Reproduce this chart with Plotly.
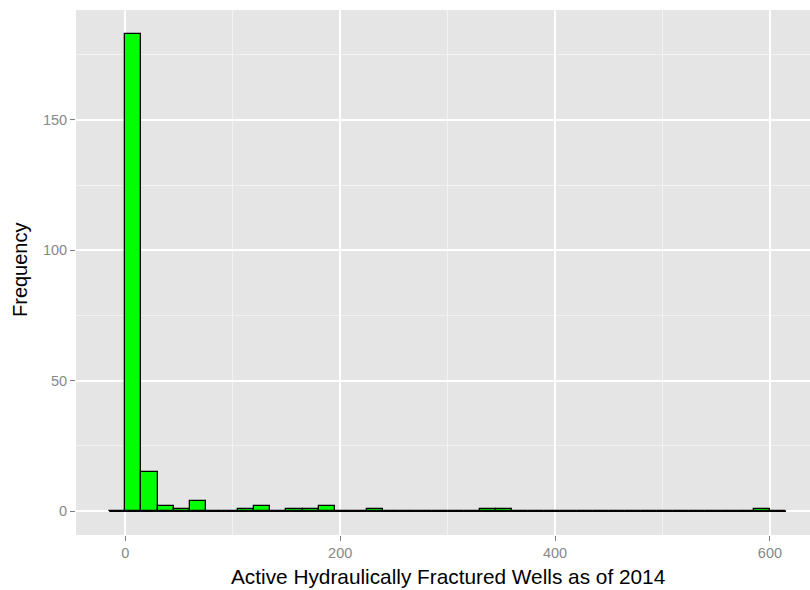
import plotly.graph_objects as go

# Histogram data (binwidth 15, first bin starts at -15)
bin_start = -15
bin_width = 15
counts = [0, 183, 15, 2, 1, 4, 0, 0, 1, 2, 0, 1, 1, 2, 0, 0, 1,
          0, 0, 0, 0, 0, 0, 1, 1,
          0, 0, 0, 0, 0, 0, 0, 0, 0, 0, 0, 0, 0, 0, 0, 1, 0]
x_ticks = [0, 200, 400, 600]
y_ticks = [0, 50, 100, 150]
x_title = "Active Hydraulically Fractured Wells as of 2014"
y_title = "Frequency"

centers = [bin_start + bin_width * (i + 0.5) for i in range(len(counts))]
edges_lo = bin_start
edges_hi = bin_start + bin_width * len(counts)

FONT = "Liberation Sans, Arial, sans-serif"
W, H = 810, 590
ML, MR, MT, MB = 76, 0, 10, 55
PW, PH = W - ML - MR, H - MT - MB

fig = go.Figure()
fig.add_trace(go.Bar(
    x=centers, y=counts, width=bin_width,
    marker=dict(color="#00FF00", line=dict(color="black", width=1.3)),
    hoverinfo="x+y",
))
fig.add_trace(go.Scatter(
    x=[edges_lo, edges_hi], y=[0, 0], mode="lines",
    line=dict(color="black", width=1.5), hoverinfo="skip",
))

fig.update_layout(
    width=W, height=H,
    margin=dict(l=ML, r=MR, t=MT, b=MB, autoexpand=False),
    paper_bgcolor="white", plot_bgcolor="#E5E5E5",
    showlegend=False, bargap=0,
    font=dict(family=FONT),
)
fig.update_xaxes(
    range=[-45.9, 637.3], tickvals=x_ticks, ticktext=[str(v) for v in x_ticks],
    showgrid=True, gridcolor="white", gridwidth=1.6, zeroline=False,
    minor=dict(dtick=100, tick0=0, showgrid=True, gridcolor="#F2F2F2", gridwidth=0.8),
    ticks="outside", ticklen=5, tickcolor="#7F7F7F", tickwidth=1,
    tickfont=dict(size=14.5, color="#888888", family=FONT),
    automargin=False, showline=False,
)
fig.update_yaxes(
    range=[-9.15, 192.15], tickvals=y_ticks, ticktext=[str(v) for v in y_ticks],
    showgrid=True, gridcolor="white", gridwidth=1.6, zeroline=False,
    minor=dict(dtick=25, tick0=0, showgrid=True, gridcolor="#F2F2F2", gridwidth=0.8),
    ticks="outside", ticklen=5, tickcolor="#7F7F7F", tickwidth=1,
    tickfont=dict(size=14.5, color="#888888", family=FONT),
    automargin=False, showline=False,
)

fig.add_annotation(
    text=x_title, xref="paper", yref="paper",
    x=(448 - ML) / PW, y=(H - MB - 576) / PH,
    xanchor="center", yanchor="middle", showarrow=False,
    font=dict(size=20.8, color="black", family=FONT),
)
fig.add_annotation(
    text=y_title, xref="paper", yref="paper",
    x=(20 - ML) / PW, y=(H - MB - 270) / PH, textangle=-90,
    xanchor="center", yanchor="middle", showarrow=False,
    font=dict(size=20, color="black", family=FONT),
)

fig.write_html(
    "out.html",
    config={"displayModeBar": False},
    post_script="document.body.style.margin='0';document.body.style.overflow='hidden';",
)
